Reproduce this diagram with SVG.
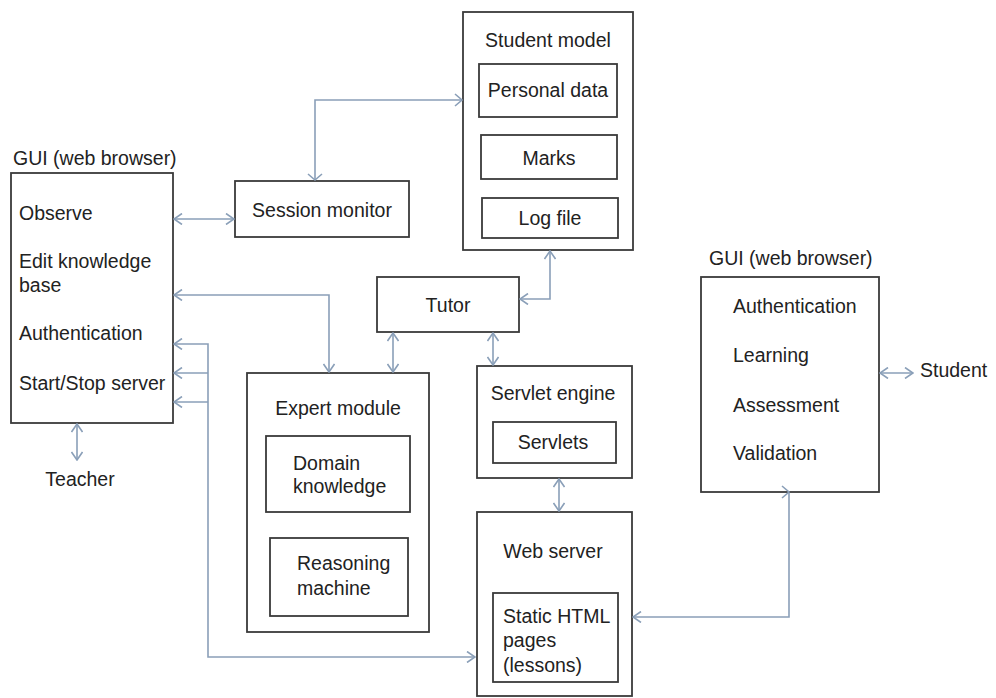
<svg xmlns="http://www.w3.org/2000/svg" width="996" height="698" viewBox="0 0 996 698">
<style>
.box{fill:none;stroke:#3a3a3a;stroke-width:1.8}
.t{font-family:"Liberation Sans",Arial,sans-serif;font-size:19.5px;fill:#222}
.c{text-anchor:middle}
.ln{fill:none;stroke:#8a9fb8;stroke-width:1.6}
</style>
<defs>
<marker id="ar" viewBox="0 0 10 12" refX="9" refY="6" markerWidth="10" markerHeight="12" markerUnits="userSpaceOnUse" orient="auto-start-reverse">
<path d="M1,0.5 L9,6 L1,11.5" fill="none" stroke="#8a9fb8" stroke-width="1.6"/>
</marker>
</defs>
<rect width="996" height="698" fill="#fff"/>

<g id="gui-teacher">
<text class="t" x="13" y="165">GUI (web browser)</text>
<rect class="box" x="11" y="173" width="162" height="250"/>
<text class="t" x="19" y="220">Observe</text>
<text class="t" x="19" y="268">Edit knowledge</text>
<text class="t" x="19" y="292">base</text>
<text class="t" x="19" y="340">Authentication</text>
<text class="t" x="19" y="390">Start/Stop server</text>
</g>
<g id="teacher"><text class="t c" x="80" y="486">Teacher</text></g>

<g id="session-monitor">
<rect class="box" x="235" y="181" width="174" height="56"/>
<text class="t c" x="322" y="217">Session monitor</text>
</g>

<g id="student-model">
<rect class="box" x="463" y="12" width="170" height="238"/>
<text class="t c" x="548" y="47">Student model</text>
<rect class="box" x="479" y="64" width="138" height="53"/>
<text class="t c" x="548" y="97">Personal data</text>
<rect class="box" x="481" y="135" width="136" height="44"/>
<text class="t c" x="549" y="165">Marks</text>
<rect class="box" x="482" y="198" width="136" height="40"/>
<text class="t c" x="550" y="225">Log file</text>
</g>

<g id="tutor">
<rect class="box" x="377" y="277" width="142" height="55"/>
<text class="t c" x="448" y="312">Tutor</text>
</g>

<g id="expert-module">
<rect class="box" x="247" y="373" width="182" height="259"/>
<text class="t c" x="338" y="415">Expert module</text>
<rect class="box" x="266" y="436" width="144" height="76"/>
<text class="t" x="293" y="470">Domain</text>
<text class="t" x="293" y="493">knowledge</text>
<rect class="box" x="270" y="538" width="138" height="78"/>
<text class="t" x="297" y="570">Reasoning</text>
<text class="t" x="297" y="595">machine</text>
</g>

<g id="servlet-engine">
<rect class="box" x="477" y="366" width="155" height="112"/>
<text class="t c" x="553" y="400">Servlet engine</text>
<rect class="box" x="493" y="422" width="123" height="41"/>
<text class="t c" x="553" y="449">Servlets</text>
</g>

<g id="web-server">
<rect class="box" x="477" y="512" width="155" height="184"/>
<text class="t c" x="553" y="558">Web server</text>
<rect class="box" x="493" y="593" width="125" height="89"/>
<text class="t" x="503" y="623">Static HTML</text>
<text class="t" x="503" y="647">pages</text>
<text class="t" x="503" y="672">(lessons)</text>
</g>

<g id="gui-student">
<text class="t" x="709" y="265">GUI (web browser)</text>
<rect class="box" x="701" y="277" width="178" height="215"/>
<text class="t" x="733" y="313">Authentication</text>
<text class="t" x="733" y="362">Learning</text>
<text class="t" x="733" y="412">Assessment</text>
<text class="t" x="733" y="460">Validation</text>
</g>
<g id="student"><text class="t" x="920" y="377">Student</text></g>

<g id="connectors">
<path class="ln" d="M174,219 H234" marker-start="url(#ar)" marker-end="url(#ar)"/>
<path class="ln" d="M315,180 V100 H462"/>
<path class="ln" d="M308,174 L315,180 L322,174"/>
<path class="ln" d="M455,94 L462,100 L455,106"/>
<path class="ln" d="M174,295 H329 V372" marker-start="url(#ar)" marker-end="url(#ar)"/>
<path class="ln" d="M520,299 H550 V251" marker-start="url(#ar)" marker-end="url(#ar)"/>
<path class="ln" d="M174,344 H208 V657 H475" marker-start="url(#ar)" marker-end="url(#ar)"/>
<path class="ln" d="M208,373 H174" marker-end="url(#ar)"/>
<path class="ln" d="M208,402 H174" marker-end="url(#ar)"/>
<path class="ln" d="M77,424 V460" marker-start="url(#ar)" marker-end="url(#ar)"/>
<path class="ln" d="M393,333 V372" marker-start="url(#ar)" marker-end="url(#ar)"/>
<path class="ln" d="M493,333 V365" marker-start="url(#ar)" marker-end="url(#ar)"/>
<path class="ln" d="M559,479 V511" marker-start="url(#ar)" marker-end="url(#ar)"/>
<path class="ln" d="M633,617 H789 V493" marker-start="url(#ar)"/>
<path class="ln" d="M782,486 L789,492 L782,498"/>
<path class="ln" d="M880,373 H913" marker-start="url(#ar)" marker-end="url(#ar)"/>
</g>
</svg>
